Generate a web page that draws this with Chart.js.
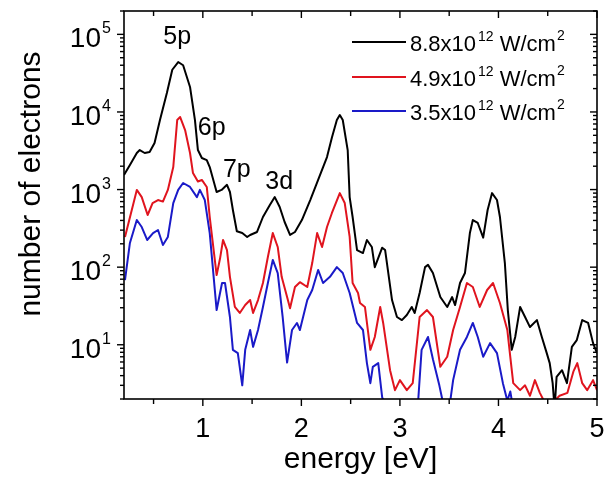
<!DOCTYPE html>
<html>
<head>
  <title>Photoelectron spectra</title>
  <script src="https://cdn.jsdelivr.net/npm/chart.js"></script>
  <style>
    body { margin: 0; background: #fff; }
    #wrap { width: 612px; height: 489px; }
  </style>
</head>
<body>
  <div id="wrap"><canvas id="spec" width="612" height="489"></canvas></div>

  <script>
    // 8.8x10^12 W/cm^2
    const energyHigh = [0.20, 0.26, 0.33, 0.36, 0.41, 0.46, 0.51, 0.565, 0.635, 0.69, 0.75, 0.80, 0.87, 0.92, 0.95, 0.99,
      1.04, 1.07, 1.14, 1.19, 1.245, 1.275, 1.305, 1.345, 1.40, 1.45, 1.48, 1.55, 1.61, 1.68, 1.73, 1.78, 1.83, 1.885,
      1.935, 2.005, 2.09, 2.17, 2.26, 2.31, 2.36, 2.39, 2.42, 2.47, 2.49, 2.52, 2.565, 2.625, 2.665, 2.715, 2.745, 2.82,
      2.85, 2.92, 2.97, 3.02, 3.07, 3.12, 3.15, 3.20, 3.255, 3.285, 3.335, 3.41, 3.48, 3.53, 3.56, 3.61, 3.66, 3.71,
      3.74, 3.79, 3.845, 3.89, 3.935, 3.985, 4.015, 4.065, 4.095, 4.135, 4.17, 4.22, 4.27, 4.32, 4.39, 4.44, 4.49, 4.52,
      4.55, 4.57, 4.59, 4.645, 4.695, 4.745, 4.795, 4.85, 4.91, 4.96, 5.0];
    const countsHigh = [1540, 2070, 2960, 3230, 2960, 3050, 3980, 7870, 17500, 35000, 44000, 40000, 21000, 7870, 3230, 2550,
      2400, 1950, 930, 990, 1150, 930, 545, 290, 275, 245, 260, 284, 443, 632, 800, 596, 382, 260,
      284, 405, 733, 1330, 2620, 4700, 7870, 9140, 7870, 3230, 800, 443, 166, 152, 224, 182, 100, 178,
      166, 37.7, 22.8, 20.8, 24.2, 30.7, 25.7, 46.4, 100, 107, 84, 41.2, 30.7, 41.2, 32.5, 62.5, 84, 275,
      405, 371, 240, 545, 900, 733, 443, 113, 28, 8.6, 12.6, 30.7, 22.8, 16.9, 20.8, 12.6, 7.8, 5.8,
      3.2, 1.5, 3.85, 4.7, 3.2, 9.4, 11.5, 20.8, 19.1, 10.5, 7.8];

    // 4.9x10^12 W/cm^2
    const energyMid = [0.21, 0.33, 0.38, 0.44, 0.49, 0.545, 0.595, 0.645, 0.70, 0.74, 0.77, 0.82, 0.87, 0.90, 0.95, 0.99,
      1.04, 1.07, 1.14, 1.175, 1.205, 1.245, 1.275, 1.325, 1.375, 1.43, 1.48, 1.51, 1.56, 1.61, 1.66, 1.71, 1.76, 1.80,
      1.855, 1.885, 1.935, 1.985, 2.06, 2.11, 2.16, 2.21, 2.26, 2.31, 2.39, 2.44, 2.49, 2.52, 2.575, 2.595, 2.645, 2.70,
      2.745, 2.80, 2.83, 2.90, 2.95, 3.00, 3.07, 3.13, 3.20, 3.275, 3.335, 3.41, 3.48, 3.54, 3.61, 3.68, 3.74, 3.81,
      3.885, 3.945, 4.015, 4.09, 4.12, 4.15, 4.22, 4.27, 4.32, 4.37, 4.42, 4.47, 4.55, 4.62, 4.70, 4.76, 4.80, 4.85,
      4.90, 4.96, 5.0];
    const countsMid = [245, 990, 800, 470, 670, 733, 700, 990, 1950, 7870, 8600, 5850, 2960, 1630, 1270, 1330,
      1080, 443, 79, 130, 224, 166, 75, 30.7, 25.7, 32.5, 37.7, 25.7, 37.7, 62.5, 135, 275, 182, 75,
      41.2, 29.5, 55.5, 64, 55.5, 113, 275, 182, 329, 499, 900, 670, 245, 62.5, 46.4, 34.5, 30.7, 8.6,
      12.6, 30.7, 19.1, 4.7, 2.6, 3.5, 2.6, 3.2, 22.8, 28, 22.8, 5.2, 7.0, 15.5, 30.7, 62.5, 55.5, 30.7,
      50.8, 62.5, 34.5, 15.5, 7.0, 3.2, 2.6, 3.0, 2.2, 3.5, 2.4, 1.8, 1.8, 2.2, 2.4, 4.5, 5.8, 3.2,
      2.6, 3.5, 2.6];

    // 3.5x10^12 W/cm^2
    const energyLow = [0.21, 0.26, 0.33, 0.38, 0.435, 0.495, 0.545, 0.595, 0.645, 0.70, 0.75, 0.80, 0.87, 0.94, 0.97, 1.02,
      1.07, 1.14, 1.195, 1.225, 1.275, 1.305, 1.355, 1.40, 1.43, 1.48, 1.51, 1.56, 1.61, 1.66, 1.71, 1.76, 1.81, 1.855,
      1.905, 1.955, 1.985, 2.06, 2.11, 2.17, 2.22, 2.29, 2.36, 2.42, 2.49, 2.565, 2.625, 2.665, 2.70, 2.725, 2.78, 2.82,
      2.87, 3.18, 3.22, 3.285, 3.335, 3.40, 3.45, 3.50, 3.54, 3.61, 3.68, 3.74, 3.79, 3.845, 3.915, 3.985, 4.045, 4.09,
      4.12, 4.15, 4.20];
    const countsLow = [68, 205, 405, 329, 224, 275, 301, 193, 245, 670, 990, 1215, 1080, 800, 990, 733,
      275, 28, 62.5, 62.5, 22.8, 8.6, 7.8, 3.0, 8.6, 15.5, 9.4, 15.5, 30.7, 62.5, 124, 84, 22.8, 5.9,
      15.5, 19.1, 15.5, 37.7, 50.8, 92, 62.5, 75, 100, 84, 46.4, 19.1, 15.5, 5.8, 3.2, 5.2, 5.8, 2.1,
      1.5, 1.5, 8.6, 12.6, 6.5, 3.0, 1.5, 1.5, 3.5, 8.6, 12.6, 19.1, 12.6, 7.0, 10.5, 7.8, 3.2, 1.9,
      2.5, 1.5, 1.2];

    const seriesNames = ['8.8x10', '4.9x10', '3.5x10'];
    const seriesColors = ['#000000', '#e0141e', '#1a1ac8'];

    const xMajorTicks = [1, 2, 3, 4, 5];
    const xMinorTicks = [0.5, 1.5, 2.5, 3.5, 4.5];
    const yDecades = [1, 2, 3, 4, 5];

    const peakNames = ['5p', '6p', '7p', '3d'];
    const peakEnergy = [0.74, 1.09, 1.345, 1.775];
    const peakCounts = [92500, 6200, 1790, 1250];

    const pts = (xs, ys) => xs.map((e, i) => ({ x: e, y: ys[i] }));
    const FONT = '"Liberation Sans", Arial, sans-serif';

    const decor = {
      id: 'decor',
      afterDraw(chart) {
        const { ctx, chartArea: a, scales: { x, y } } = chart;
        ctx.save();
        ctx.strokeStyle = '#000';
        ctx.fillStyle = '#000';
        const seg = (x1, y1, x2, y2) => { ctx.beginPath(); ctx.moveTo(x1, y1); ctx.lineTo(x2, y2); ctx.stroke(); };

        // frame
        ctx.lineWidth = 1.6;
        ctx.strokeRect(a.left, a.top, a.right - a.left, a.bottom - a.top);

        // x ticks: out at bottom, in at top
        ctx.lineWidth = 1.4;
        xMajorTicks.forEach(v => {
          const px = x.getPixelForValue(v);
          seg(px, a.bottom, px, a.bottom + 7);
          seg(px, a.top, px, a.top + 7);
        });
        xMinorTicks.forEach(v => {
          const px = x.getPixelForValue(v);
          seg(px, a.bottom, px, a.bottom + 5);
          seg(px, a.top, px, a.top + 5);
        });

        // y ticks: out at left, in at right
        for (let p = 0; p <= 5; p++) {
          for (let m = 1; m <= 9; m++) {
            const v = m * Math.pow(10, p);
            if (v < y.min || v > y.max) continue;
            const py = y.getPixelForValue(v);
            const len = m === 1 ? 7 : 4;
            seg(a.left - len, py, a.left, py);
            seg(a.right - len, py, a.right, py);
          }
        }

        // x tick labels
        ctx.font = '27px ' + FONT;
        ctx.textAlign = 'center';
        ctx.textBaseline = 'alphabetic';
        xMajorTicks.forEach(v => ctx.fillText(String(v), x.getPixelForValue(v), 437));

        // y tick labels 10^n
        yDecades.forEach(p => {
          const py = y.getPixelForValue(Math.pow(10, p));
          ctx.font = '28px ' + FONT;
          ctx.textAlign = 'right';
          ctx.fillText('10', 101, py + 13);
          ctx.font = '16px ' + FONT;
          ctx.textAlign = 'left';
          ctx.fillText(String(p), 102, py - 1);
        });

        // axis titles
        ctx.font = '30px ' + FONT;
        ctx.textAlign = 'center';
        ctx.fillText('energy [eV]', (a.left + a.right) / 2, 468);
        ctx.save();
        ctx.translate(40, 184);
        ctx.rotate(-Math.PI / 2);
        ctx.fillText('number of electrons', 0, 0);
        ctx.restore();

        // peak labels
        ctx.font = '25px ' + FONT;
        ctx.textAlign = 'center';
        ctx.textBaseline = 'middle';
        peakNames.forEach((t, i) => {
          ctx.fillText(t, x.getPixelForValue(peakEnergy[i]), y.getPixelForValue(peakCounts[i]));
        });

        // legend
        ctx.textBaseline = 'alphabetic';
        ctx.textAlign = 'left';
        const rows = [42, 77, 111];
        seriesNames.forEach((name, i) => {
          const ry = rows[i];
          ctx.strokeStyle = seriesColors[i];
          ctx.lineWidth = 2;
          seg(352, ry, 406, ry);
          let tx = 410;
          ctx.font = '22px ' + FONT;
          ctx.fillText(name, tx, ry + 9);
          tx += ctx.measureText(name).width + 2;
          ctx.font = '14px ' + FONT;
          ctx.fillText('12', tx, ry - 1);
          tx += ctx.measureText('12').width;
          ctx.font = '22px ' + FONT;
          ctx.fillText(' W/cm', tx, ry + 9);
          tx += ctx.measureText(' W/cm').width + 1;
          ctx.font = '14px ' + FONT;
          ctx.fillText('2', tx, ry - 2);
        });
        ctx.restore();
      }
    };

    new Chart(document.getElementById('spec'), {
      type: 'line',
      data: {
        datasets: [
          { label: seriesNames[0], data: pts(energyHigh, countsHigh), borderColor: seriesColors[0] },
          { label: seriesNames[1], data: pts(energyMid, countsMid), borderColor: seriesColors[1] },
          { label: seriesNames[2], data: pts(energyLow, countsLow), borderColor: seriesColors[2] }
        ]
      },
      options: {
        responsive: false,
        animation: false,
        layout: { padding: { top: 11, right: 15, left: 0, bottom: 0 } },
        elements: {
          point: { radius: 0 },
          line: { borderWidth: 2, tension: 0, borderJoinStyle: 'round' }
        },
        plugins: { legend: { display: false }, tooltip: { enabled: false } },
        scales: {
          x: {
            type: 'linear', min: 0.2, max: 5,
            grid: { display: false }, border: { display: false }, ticks: { display: false },
            afterFit: s => { s.height = 90; }
          },
          y: {
            type: 'logarithmic', min: 2, max: 200000,
            grid: { display: false }, border: { display: false }, ticks: { display: false },
            afterFit: s => { s.width = 124; }
          }
        }
      },
      plugins: [decor]
    });
  </script>
</body>
</html>
